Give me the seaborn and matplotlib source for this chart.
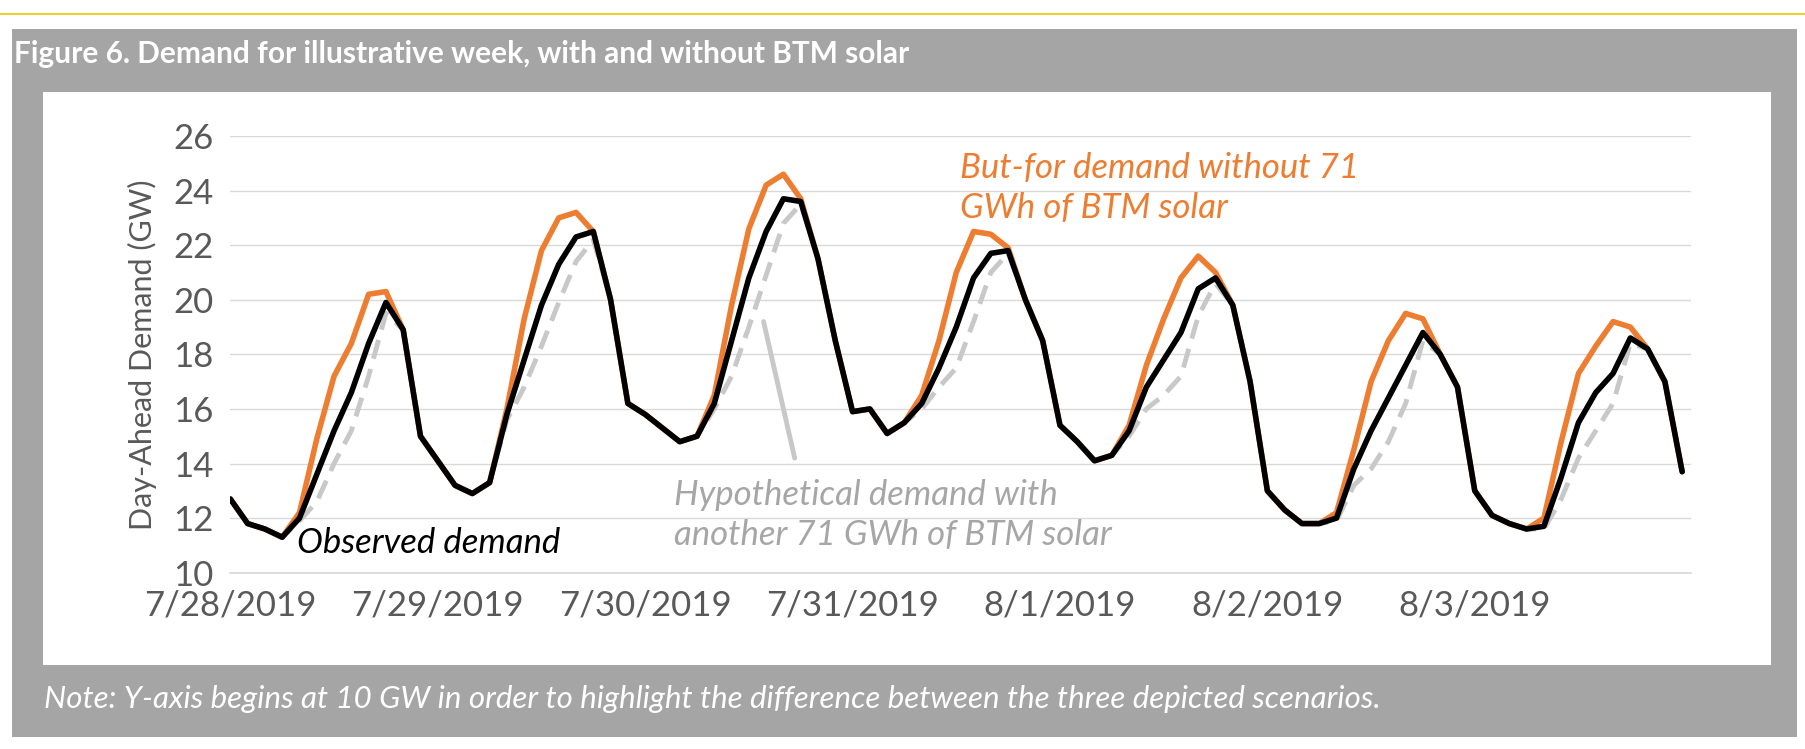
import numpy as np
import pandas as pd
import matplotlib
matplotlib.use("Agg")
import matplotlib.pyplot as plt
import seaborn as sns
from matplotlib.patches import Rectangle
from matplotlib.lines import Line2D

sns.set_theme(style="white")
plt.rcParams['font.family'] = ['Lato', 'DejaVu Sans']

# Hours 0..168 in 2-hour steps
hours = list(range(0, 170, 2))
day_labels = ["7/28/2019", "7/29/2019", "7/30/2019", "7/31/2019", "8/1/2019", "8/2/2019", "8/3/2019"]

observed_d1 = [12.7, 11.8, 11.6, 11.3, 12.0, 13.6, 15.2, 16.6, 18.4, 19.9, 18.9, 15.0]
observed_d2 = [14.1, 13.2, 12.9, 13.3, 15.8, 17.8, 19.8, 21.3, 22.3, 22.5, 20.0, 16.2]
observed_d3 = [15.8, 15.3, 14.8, 15.0, 16.2, 18.5, 20.8, 22.5, 23.7, 23.6, 21.5, 18.5]
observed_d4 = [15.9, 16.0, 15.1, 15.5, 16.2, 17.5, 19.0, 20.8, 21.7, 21.8, 20.0, 18.5]
observed_d5 = [15.4, 14.8, 14.1, 14.3, 15.2, 16.8, 17.8, 18.8, 20.4, 20.8, 19.8, 17.0]
observed_d6 = [13.0, 12.3, 11.8, 11.8, 12.0, 13.8, 15.2, 16.4, 17.6, 18.8, 18.0, 16.8]
observed_d7 = [13.0, 12.1, 11.8, 11.6, 11.7, 13.5, 15.5, 16.6, 17.3, 18.6, 18.2, 17.0, 13.7]

butfor_d1 = [12.7, 11.8, 11.6, 11.3, 12.2, 14.9, 17.2, 18.4, 20.2, 20.3, 18.9, 15.0]
butfor_d2 = [14.1, 13.2, 12.9, 13.3, 16.0, 19.3, 21.8, 23.0, 23.2, 22.5, 20.0, 16.2]
butfor_d3 = [15.8, 15.3, 14.8, 15.0, 16.5, 19.8, 22.6, 24.2, 24.6, 23.7, 21.5, 18.5]
butfor_d4 = [15.9, 16.0, 15.1, 15.5, 16.5, 18.5, 21.0, 22.5, 22.4, 21.9, 20.0, 18.5]
butfor_d5 = [15.4, 14.8, 14.1, 14.3, 15.4, 17.6, 19.3, 20.8, 21.6, 21.0, 19.8, 17.0]
butfor_d6 = [13.0, 12.3, 11.8, 11.8, 12.2, 14.5, 17.0, 18.5, 19.5, 19.3, 18.0, 16.8]
butfor_d7 = [13.0, 12.1, 11.8, 11.6, 12.0, 14.8, 17.3, 18.3, 19.2, 19.0, 18.2, 17.0, 13.7]

hypo_d1 = [12.7, 11.8, 11.6, 11.3, 11.9, 12.6, 14.0, 15.2, 17.2, 19.5, 18.9, 15.0]
hypo_d2 = [14.1, 13.2, 12.9, 13.3, 15.6, 16.8, 18.3, 19.9, 21.4, 22.2, 20.0, 16.2]
hypo_d3 = [15.8, 15.3, 14.8, 15.0, 16.0, 17.2, 19.0, 20.9, 22.8, 23.5, 21.5, 18.5]
hypo_d4 = [15.9, 16.0, 15.1, 15.5, 16.0, 16.8, 17.5, 19.2, 21.0, 21.7, 20.0, 18.5]
hypo_d5 = [15.4, 14.8, 14.1, 14.3, 15.0, 16.0, 16.5, 17.2, 19.4, 20.6, 19.8, 17.0]
hypo_d6 = [13.0, 12.3, 11.8, 11.8, 11.9, 13.2, 13.8, 14.8, 16.2, 18.5, 18.0, 16.8]
hypo_d7 = [13.0, 12.1, 11.8, 11.6, 11.6, 12.7, 14.2, 15.2, 16.2, 18.4, 18.2, 17.0, 13.7]

observed = observed_d1 + observed_d2 + observed_d3 + observed_d4 + observed_d5 + observed_d6 + observed_d7
butfor = butfor_d1 + butfor_d2 + butfor_d3 + butfor_d4 + butfor_d5 + butfor_d6 + butfor_d7
hypo = hypo_d1 + hypo_d2 + hypo_d3 + hypo_d4 + hypo_d5 + hypo_d6 + hypo_d7

df = pd.DataFrame({"hour": hours, "observed": observed, "butfor": butfor, "hypo": hypo})

W, H = 1568, 650  # reference display coordinates
fig = plt.figure(figsize=(18.06, 7.49), dpi=100)
fig.patch.set_facecolor("white")

def fx(x): return x / W
def fy(y): return 1 - y / H

fig.add_artist(Line2D([0, 1], [fy(12), fy(12)], color="#E8C800", lw=1.2, transform=fig.transFigure))
fig.add_artist(Rectangle((fx(10), fy(640)), fx(1550), (640 - 25) / H, transform=fig.transFigure,
                         facecolor="#A5A5A5", edgecolor="none", zorder=0))
fig.add_artist(Rectangle((fx(37), fy(577)), fx(1501), (577 - 80) / H, transform=fig.transFigure,
                         facecolor="white", edgecolor="none", zorder=0.5))
fig.text(fx(12), fy(47), "Figure 6. Demand for illustrative week, with and without BTM solar",
         color="white", fontsize=21.5, fontweight="bold", va="center", ha="left")
fig.text(fx(38), fy(607), "Note: Y-axis begins at 10 GW in order to highlight the difference between the three depicted scenarios.",
         color="white", fontsize=22.5, style="italic", va="center", ha="left")

ax = fig.add_axes([fx(200), fy(497), fx(1268), (497 - 118) / H])
ax.set_facecolor("none")
ax.set_zorder(2)

sns.lineplot(data=df, x="hour", y="hypo", ax=ax, color="#C8C8C8", lw=3.5, zorder=2)
ax.lines[-1].set_dashes((4, 2.2))
sns.lineplot(data=df, x="hour", y="butfor", ax=ax, color="#ED7D31", lw=4, zorder=3)
sns.lineplot(data=df, x="hour", y="observed", ax=ax, color="black", lw=4, zorder=4)

ax.set_xlim(0, 169)
ax.set_ylim(10, 26)
ax.set_yticks(range(10, 27, 2))
ax.set_xticks([24 * i for i in range(7)])
ax.set_xticklabels(day_labels)
ax.grid(axis="y", color="#D9D9D9", lw=1)
ax.set_axisbelow(True)
for s in ["top", "right", "left"]:
    ax.spines[s].set_visible(False)
ax.spines["bottom"].set_color("#D9D9D9")
ax.tick_params(axis="both", labelsize=25, colors="#595959", length=0, pad=12)
ax.set_xlabel("")
ax.set_ylabel("Day-Ahead Demand (GW)", fontsize=22, color="#595959", labelpad=12)

ax.text(84.4, 24.1, "But-for demand without 71\nGWh of BTM solar", color="#ED7D31",
        fontsize=25, style="italic", va="center", ha="left", linespacing=1.3)
ax.text(51.3, 12.1, "Hypothetical demand with\nanother 71 GWh of BTM solar", color="#A6A6A6",
        fontsize=25, style="italic", va="center", ha="left", linespacing=1.3)
ax.text(7.7, 11.1, "Observed demand", color="black", fontsize=25, style="italic", va="center", ha="left")
ax.plot([61.7, 65.3], [19.2, 14.2], color="#C8C8C8", lw=3.5, zorder=1)

fig.savefig("out.png", dpi=100)
